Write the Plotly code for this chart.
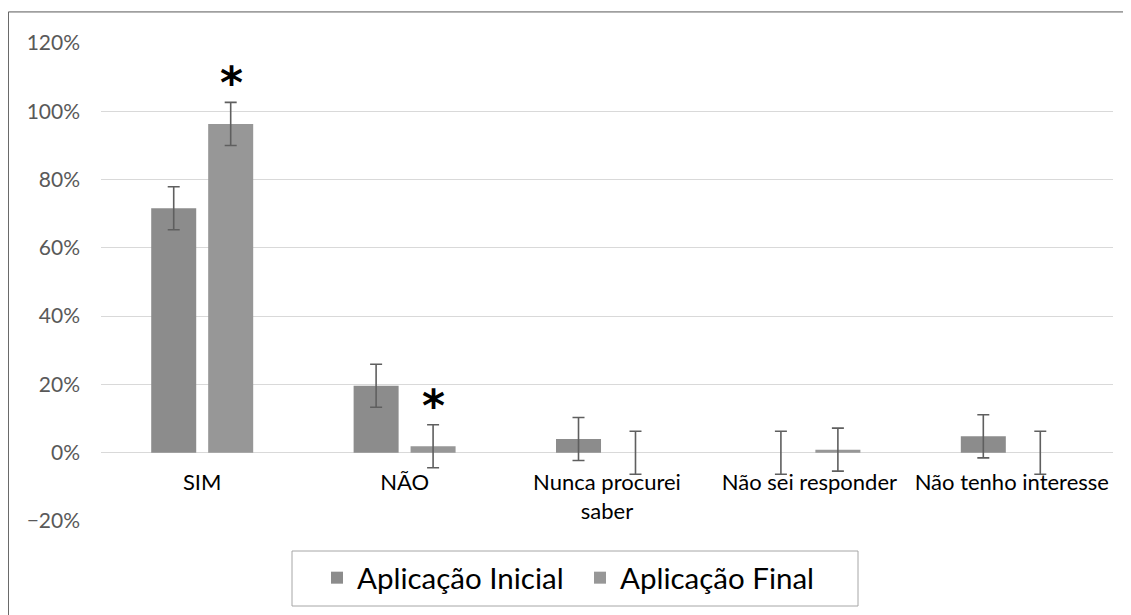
import plotly.graph_objects as go

categories = ["SIM", "NÃO", "Nunca procurei<br>saber", "Não sei responder", "Não tenho interesse"]
inicial = [0.716, 0.196, 0.040, 0.0, 0.048]
final = [0.963, 0.019, 0.0, 0.009, 0.0]
erro_inicial = [0.063, 0.063, 0.063, 0.063, 0.063]
erro_final = [0.063, 0.063, 0.063, 0.063, 0.063]
significativo = ["SIM", "NÃO"]

FONT = "Lato, 'Open Sans', sans-serif"
ERR = dict(type="data", thickness=1.6, width=6, color="#5f5f5f")

# the page adds an 8px body margin, so the figure is drawn 8px in from the window edge
W, H = 1123, 607

fig = go.Figure()
fig.add_trace(go.Bar(
    x=categories, y=inicial, name="Aplicação Inicial",
    marker=dict(color="#8c8c8c", line=dict(width=0)),
    error_y=dict(array=erro_inicial, **ERR),
))
fig.add_trace(go.Bar(
    x=categories, y=final, name="Aplicação Final",
    marker=dict(color="#979797", line=dict(width=0)),
    error_y=dict(array=erro_final, **ERR),
))

# asterisks above the significant "Final" bars
for cat in significativo:
    i = categories.index(cat)
    fig.add_annotation(
        x=cat, y=final[i] + erro_final[i], xref="x", yref="y",
        text="<b>*</b>", showarrow=False, xshift=29, yshift=-8, yanchor="bottom",
        font=dict(size=44, color="#000000", family="DejaVu Sans"),
    )

# outer chart border and legend box
fig.add_shape(type="rect", xref="paper", yref="paper",
              x0=-0.0915, x1=1.03, y0=-0.25, y1=1.065,
              line=dict(color="#595959", width=1), fillcolor="rgba(0,0,0,0)", layer="below")
fig.add_shape(type="rect", xref="paper", yref="paper",
              x0=(292 - 101) / 1012, x1=(858 - 101) / 1012,
              y0=(521 - 606) / 478, y1=(521 - 551) / 478,
              line=dict(color="#a6a6a6", width=1), fillcolor="rgba(0,0,0,0)", layer="below")

fig.update_layout(
    width=W, height=H,
    margin=dict(l=93, r=18, t=35, b=94, autoexpand=False),
    paper_bgcolor="white", plot_bgcolor="white",
    barmode="group", bargap=0.437, bargroupgap=0.21,
    font=dict(family=FONT, size=16, color="#000000"),
    showlegend=True,
    legend=dict(
        orientation="h", xref="container", yref="container",
        x=309 / W, xanchor="left", y=1 - 570 / H, yanchor="middle",
        font=dict(size=29.5, color="#000000"),
        borderwidth=0, bgcolor="rgba(0,0,0,0)",
        itemwidth=30, entrywidth=218,
    ),
)
fig.update_xaxes(
    anchor="free", position=(521 - 453) / 478, automargin=False,
    showline=False, showgrid=False, ticks="", ticklabelstandoff=14,
    tickfont=dict(size=22, color="#000000"),
)
fig.update_yaxes(
    range=[-0.2, 1.2], dtick=0.2, tickformat=".0%", automargin=False,
    showgrid=True, gridcolor="#d9d9d9", gridwidth=1,
    zeroline=True, zerolinecolor="#d9d9d9", zerolinewidth=1,
    showline=False, ticks="", ticklabelstandoff=20,
    tickfont=dict(size=21, color="#595959"),
)

fig.write_html("out.html")
